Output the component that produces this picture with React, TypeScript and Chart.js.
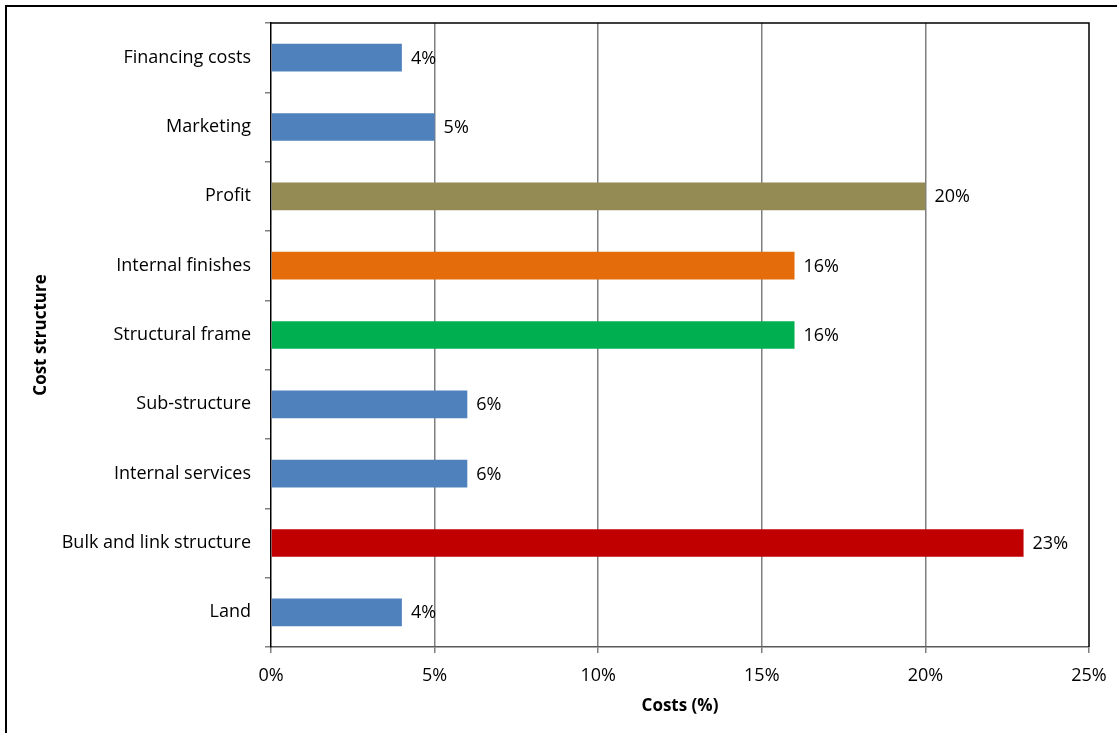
import React, { useEffect, useRef } from "react";
import { Chart, registerables } from "chart.js";

Chart.register(...registerables);

const categories = [
  "Financing costs",
  "Marketing",
  "Profit",
  "Internal finishes",
  "Structural frame",
  "Sub-structure",
  "Internal services",
  "Bulk and link structure",
  "Land",
];
const costValues = [4, 5, 20, 16, 16, 6, 6, 23, 4];
const barColors = [
  "#4F81BD",
  "#4F81BD",
  "#948A54",
  "#E46C0A",
  "#00B050",
  "#4F81BD",
  "#4F81BD",
  "#C00000",
  "#4F81BD",
];
const xTickValues = [0, 5, 10, 15, 20, 25];

const FONT = "'Open Sans', 'Noto Sans', sans-serif";

export default function App() {
  const ref = useRef<HTMLCanvasElement | null>(null);

  useEffect(() => {
    if (!ref.current) return;
    const framePlugin = {
      id: "frame",
      beforeDraw(chart: any) {
        const ctx = chart.ctx;
        ctx.save();
        ctx.fillStyle = "#ffffff";
        ctx.fillRect(0, 0, chart.width, chart.height);
        ctx.strokeStyle = "#000000";
        ctx.lineWidth = 2;
        ctx.strokeRect(6, 6, 1130, 800);
        ctx.restore();
      },
      afterDraw(chart: any) {
        const { ctx, chartArea } = chart;
        ctx.save();
        ctx.strokeStyle = "#000000";
        ctx.lineWidth = 1.5;
        ctx.beginPath();
        ctx.moveTo(chartArea.left, chartArea.top);
        ctx.lineTo(chartArea.right, chartArea.top);
        ctx.lineTo(chartArea.right, chartArea.bottom);
        ctx.stroke();
        ctx.restore();
      },
    };
    const labelPlugin = {
      id: "barLabels",
      afterDatasetsDraw(chart: any) {
        const ctx = chart.ctx;
        const meta = chart.getDatasetMeta(0);
        ctx.save();
        ctx.font = `18px ${FONT}`;
        ctx.fillStyle = "#000000";
        ctx.textAlign = "left";
        ctx.textBaseline = "middle";
        meta.data.forEach((bar: any, i: number) => {
          ctx.fillText(`${costValues[i]}%`, bar.x + 9, bar.y + 1);
        });
        ctx.restore();
      },
    };
    const chart = new Chart(ref.current, {
      type: "bar",
      data: {
        labels: categories,
        datasets: [
          {
            data: costValues,
            backgroundColor: barColors,
            borderWidth: 0,
            barPercentage: 0.4,
            categoryPercentage: 1,
          },
        ],
      },
      options: {
        indexAxis: "y",
        responsive: false,
        animation: false,
        layout: { padding: { left: 0, top: 23, right: 28, bottom: 0 } },
        plugins: {
          legend: { display: false },
          tooltip: { enabled: false },
        },
        scales: {
          x: {
            type: "linear",
            min: 0,
            max: 25,
            afterFit(scale: any) {
              scale.height = 86;
              scale.paddingLeft = 0;
              scale.paddingRight = 0;
            },
            afterBuildTicks(scale: any) {
              scale.ticks = xTickValues.map((v) => ({ value: v }));
            },
            ticks: {
              padding: 12,
              color: "#000000",
              font: { family: FONT, size: 18 },
              callback: (v: any) => `${v}%`,
            },
            grid: {
              color: (c: any) =>
                c.tick && (c.tick.value === 0 || c.tick.value === 25)
                  ? "rgba(0,0,0,0)"
                  : "#7f7f7f",
              lineWidth: 1.5,
              tickColor: "#7f7f7f",
              tickLength: 6,
            },
            border: { color: "#595959", width: 1.5 },
            title: {
              display: true,
              text: "Costs (%)",
              color: "#000000",
              font: { family: FONT, size: 17, weight: "bold" },
              padding: { top: 0, bottom: 17 },
            },
          },
          y: {
            type: "category",
            afterFit(scale: any) {
              scale.width = 271;
              scale.paddingTop = 0;
              scale.paddingBottom = 0;
            },
            ticks: {
              padding: 14,
              color: "#000000",
              font: { family: FONT, size: 18 },
            },
            grid: {
              drawOnChartArea: false,
              tickColor: "#7f7f7f",
              tickLength: 6,
              lineWidth: 1.5,
            },
            border: { color: "#000000", width: 1.5 },
            title: {
              display: true,
              text: "Cost structure",
              color: "#000000",
              font: { family: FONT, size: 17, weight: "bold" },
              padding: { top: 31, bottom: 0 },
            },
          },
        },
      },
      plugins: [framePlugin, labelPlugin],
    } as any);
    return () => chart.destroy();
  }, []);

  return (
    <div style={{ position: "fixed", left: 0, top: 0, width: 1117, height: 733 }}>
      <canvas ref={ref} width={1117} height={733} />
    </div>
  );
}
